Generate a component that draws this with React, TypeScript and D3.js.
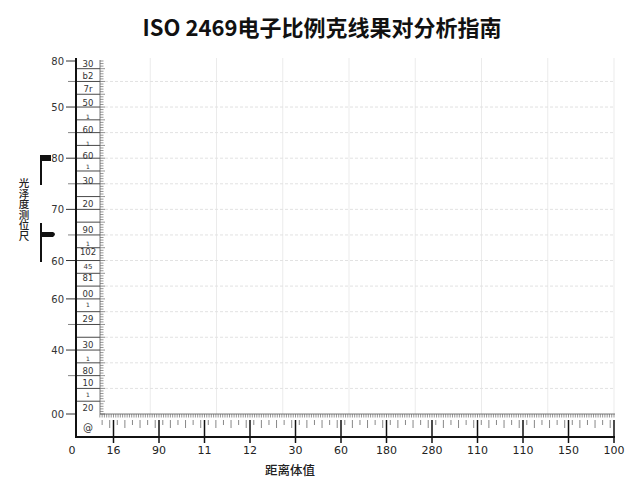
import React from "react";
import * as d3 from "d3";

// 横轴刻度 (0..120) 和文字
const xTickValues = [0, 10, 20, 30, 40, 50, 60, 70, 80, 90, 100, 110, 120];
const xTickLabels = ["0", "16", "90", "11", "12", "30", "60", "180", "280", "110", "110", "150", "100"];

// 纵轴刻度 (0..138) 和文字
const yTickValues = [0, 25, 45, 60, 80, 100, 120, 138];
const yTickLabels = ["00", "40", "60", "60", "70", "80", "50", "80"];
const yMinorTicks = [15, 35, 70, 90, 110, 130];

// 标尺内部的小标注
const rulerValues = [137, 132, 127, 121.5, 116.5, 111, 106, 101, 97, 91, 82, 72, 67, 63.5, 58, 53, 47, 43, 37, 27, 22, 17, 12, 8, 2.5, -5.5];
const rulerLabels = ["30", "b2", "7r", "50", "1", "60", "1", "60", "1", "30", "20", "90", "1", "102", "45", "81", "00", "1", "29", "30", "1", "80", "10", "1", "20", "@"];

const title = "ISO 2469电子比例克线果对分析指南";
const yTitle = "光泽度测位尺";
const xTitle = "距离体值";

const W = 640;
const H = 480;
const left = 76;
const right = 615;
const top = 58;
const base = 437;
const stripTop = 414;
const stripRight = 100;

export default function App() {
  const x = d3.scaleLinear().domain([0, 120]).range([68, 614]);
  const y = d3.scaleLinear().domain([0, 138]).range([stripTop, 61]);
  const gx = d3.scaleLinear().domain([0, 8]).range([84, 614]);

  const font = "'DejaVu Sans', sans-serif";
  const cjk = "'Noto Sans CJK SC', sans-serif";

  const rulerSize = (t: string) => (t === "1" ? 6 : t === "@" ? 10 : t === "45" ? 7 : 8.5);

  return (
    <svg width={W} height={H} style={{ position: "absolute", left: 0, top: 0, background: "#fff" }}>
      <text x={322} y={36} textAnchor="middle" fontFamily={cjk} fontWeight={700} fontSize={22} fill="#111">
        {title}
      </text>

      {/* grid */}
      {d3.range(1, 9).map((i) => (
        <line key={"gv" + i} x1={gx(i)} x2={gx(i)} y1={top} y2={stripTop} stroke="#ebebeb" strokeWidth={1} />
      ))}
      {d3.range(10, 140, 10).map((v) => (
        <line key={"gh" + v} x1={stripRight} x2={right} y1={y(v)} y2={y(v)}
          stroke="#e2e2e2" strokeWidth={1} strokeDasharray="3,2" />
      ))}

      {/* left ruler strip */}
      {d3.range(5, 140, 5).map((v) => (
        <line key={"sl" + v} x1={left} x2={stripRight} y1={y(v)} y2={y(v)} stroke="#333" strokeWidth={0.9} />
      ))}
      <line x1={stripRight} x2={stripRight} y1={top + 2} y2={stripTop} stroke="#555" strokeWidth={0.8} />
      {d3.range(0, 139, 1).map((v) => (
        <line key={"rt" + v} x1={stripRight} x2={stripRight + (v % 5 === 0 ? 5 : 3.5)} y1={y(v)} y2={y(v)}
          stroke="#666" strokeWidth={0.7} />
      ))}
      {rulerValues.map((v, i) => (
        <text key={"rl" + i} x={88} y={y(v) + 3} textAnchor="middle" fontFamily={font}
          fontSize={rulerSize(rulerLabels[i])} fill="#333">{rulerLabels[i]}</text>
      ))}

      {/* bottom ruler strip */}
      <line x1={stripRight} x2={right} y1={stripTop} y2={stripTop} stroke="#555" strokeWidth={0.8} />
      {d3.range(7, 120.01, 0.5).map((v) => (
        <line key={"bd" + v} x1={x(v)} x2={x(v)} y1={stripTop} y2={stripTop + 3.5} stroke="#666" strokeWidth={0.7} />
      ))}
      {d3.range(7.5, 120, 10 / 6).map((v, i) => (
        <line key={"bm" + i} x1={x(v)} x2={x(v)} y1={stripTop + 6} y2={stripTop + (i % 2 ? 14 : 11)}
          stroke="#555" strokeWidth={0.7} />
      ))}

      {/* y ticks */}
      {yTickValues.map((v) => (
        <line key={"yt" + v} x1={66} x2={left} y1={y(v)} y2={y(v)} stroke="#333" strokeWidth={1} />
      ))}
      {yMinorTicks.map((v) => (
        <line key={"ym" + v} x1={68} x2={left} y1={y(v)} y2={y(v)} stroke="#666" strokeWidth={0.8} />
      ))}
      {yTickValues.map((v, i) => (
        <text key={"yl" + v} x={64} y={y(v) + 4} textAnchor="end" fontFamily={font} fontSize={10} fill="#333">
          {yTickLabels[i]}
        </text>
      ))}

      {/* x ticks */}
      {xTickValues.filter((v) => v > 0).map((v) => (
        <line key={"xt" + v} x1={x(v)} x2={x(v)} y1={stripTop + 6} y2={base + 6} stroke="#111" strokeWidth={1.5} />
      ))}
      {xTickValues.map((v, i) => (
        <text key={"xl" + v} x={x(v) + (v === 0 ? 4 : 0)} y={454} textAnchor="middle" fontFamily={font}
          fontSize={11} fill="#222">{xTickLabels[i]}</text>
      ))}

      {/* axes */}
      <line x1={left} x2={left} y1={top} y2={base} stroke="#111" strokeWidth={2} />
      <line x1={left - 1} x2={right} y1={base} y2={base} stroke="#111" strokeWidth={2} />

      {/* axis titles */}
      <text x={290} y={475} textAnchor="middle" fontFamily={cjk} fontSize={12.5} fontWeight={500} fill="#222">
        {xTitle}
      </text>
      <text x={24} y={178} fontFamily={cjk} fontSize={10.5} fontWeight={500} fill="#222"
        style={{ writingMode: "vertical-rl" }} textAnchor="start">
        {yTitle}
      </text>
      <path d="M41,185 V156 H50 V160 H42" fill="#111" stroke="#111" strokeWidth={2} />
      <line x1={41} x2={41} y1={223} y2={262} stroke="#111" strokeWidth={2} />
      <path d="M42,232 H53 Q57,234 53,237 H42 Z" fill="#111" />
    </svg>
  );
}
